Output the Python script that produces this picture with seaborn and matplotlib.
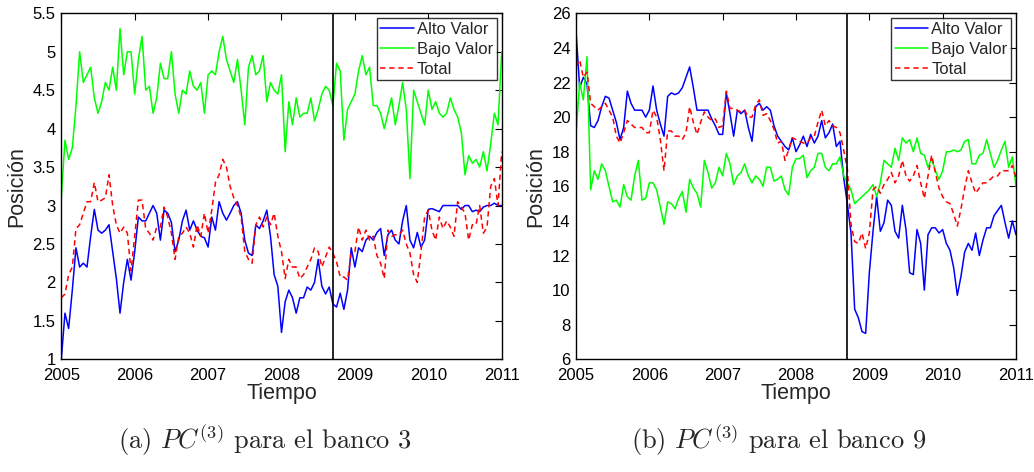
import numpy as np
import pandas as pd
import matplotlib
matplotlib.use("Agg")
import matplotlib.pyplot as plt
import seaborn as sns

# ---------------- data ----------------
YEARS = np.round(2005 + 0.05 * np.arange(121), 2)   # time grid, every 0.05 year
EVENT_YEAR = 2008.70                                  # vertical marker (Sept. 2008)
SERIES = ["Alto Valor", "Bajo Valor", "Total"]
X_TICKS = [2005, 2006, 2007, 2008, 2009, 2010, 2011]
Y_TICKS_A = [1, 1.5, 2, 2.5, 3, 3.5, 4, 4.5, 5, 5.5]
Y_TICKS_B = [6, 8, 10, 12, 14, 16, 18, 20, 22, 24, 26]

A_ALTO = [1.0, 1.6, 1.4, 1.9, 2.45, 2.2, 2.25, 2.2, 2.6, 2.95,
          2.68, 2.64, 2.68, 2.75, 2.4, 2.05, 1.6, 2.0, 2.3, 2.03,
          2.4, 2.85, 2.8, 2.8, 2.9, 3.0, 2.9, 2.55, 2.94, 2.9,
          2.78, 2.4, 2.55, 2.8, 2.94, 2.68, 2.8, 2.68, 2.6, 2.58,
          2.46, 2.85, 2.68, 3.05, 2.9, 2.81, 2.9, 3.0, 3.05, 2.9,
          2.55, 2.38, 2.35, 2.75, 2.7, 2.8, 2.94, 2.6, 2.1, 1.95,
          1.35, 1.75, 1.9, 1.8, 1.6, 1.8, 1.8, 1.94, 1.9, 2.0,
          2.3, 1.95, 1.85, 1.94, 1.72, 1.68, 1.86, 1.65, 1.9, 2.45,
          2.2, 2.45, 2.4, 2.55, 2.6, 2.55, 2.65, 2.7, 2.35, 2.62,
          2.68, 2.55, 2.5, 2.8, 3.0, 2.55, 2.45, 2.65, 2.46, 2.55,
          2.95, 2.96, 2.94, 2.92, 3.0, 3.0, 3.0, 3.0, 3.0, 2.95,
          3.0, 3.0, 2.92, 2.94, 2.92, 2.98, 3.0, 3.0, 3.03, 3.0, 3.0]
A_BAJO = [3.1, 3.85, 3.6, 3.75, 4.3, 5.0, 4.6, 4.7, 4.8, 4.4,
          4.2, 4.35, 4.6, 4.5, 4.8, 4.5, 5.3, 4.7, 5.0, 5.0,
          4.45, 4.9, 5.2, 4.5, 4.55, 4.2, 4.4, 4.85, 4.65, 4.65,
          5.0, 4.45, 4.2, 4.5, 4.45, 4.75, 4.55, 4.5, 4.6, 4.2,
          4.7, 4.75, 4.7, 5.0, 5.2, 4.9, 4.75, 4.6, 4.9, 4.5,
          4.05, 4.8, 4.95, 4.7, 4.75, 4.95, 4.35, 4.6, 4.5, 4.45,
          4.7, 3.7, 4.35, 4.05, 4.4, 4.15, 4.2, 4.2, 4.4, 4.1,
          4.25, 4.45, 4.55, 4.5, 4.3, 4.85, 4.75, 3.85, 4.25, 4.35,
          4.45, 4.75, 4.95, 4.7, 4.8, 4.3, 4.3, 4.2, 4.0, 4.2,
          4.4, 4.05, 4.3, 4.6, 4.25, 3.35, 4.5, 4.35, 4.2, 4.05,
          4.5, 4.25, 4.35, 4.2, 4.15, 4.2, 4.4, 4.25, 4.15, 3.95,
          3.4, 3.65, 3.55, 3.6, 3.5, 3.7, 3.45, 3.8, 4.2, 4.05, 5.0]
A_TOTAL = [1.8, 1.85, 2.1, 2.2, 2.7, 2.75, 2.9, 3.05, 3.05, 3.3,
           3.05, 3.07, 3.1, 3.4, 3.0, 2.75, 2.64, 2.72, 2.64, 2.15,
           2.6, 3.07, 3.07, 2.7, 2.64, 2.55, 2.72, 2.72, 2.98, 2.85,
           2.64, 2.3, 2.6, 2.64, 2.72, 2.64, 2.46, 2.75, 2.6, 2.9,
           2.64, 2.94, 3.3, 3.4, 3.6, 3.5, 3.25, 3.1, 3.0, 2.85,
           2.4, 2.3, 2.25, 2.75, 2.85, 2.72, 2.85, 2.75, 2.9, 2.6,
           2.4, 2.05, 2.3, 2.2, 2.2, 2.05, 2.1, 2.2, 2.3, 2.45,
           2.4, 2.2, 2.33, 2.46, 2.38, 2.27, 2.07, 2.07, 2.03, 2.38,
           2.4, 2.72, 2.55, 2.68, 2.55, 2.6, 2.35, 2.25, 2.05, 2.68,
           2.6, 2.62, 2.62, 2.68, 2.5, 2.38, 2.1, 2.0, 2.4, 2.85,
           2.94, 2.68, 2.55, 2.85, 2.7, 2.8, 2.72, 2.6, 3.05, 2.98,
           2.9, 2.55, 2.75, 2.75, 3.0, 2.64, 2.72, 3.25, 3.35, 3.0, 3.7]

B_ALTO = [25.0, 21.7, 22.3, 21.9, 19.5, 19.4, 19.8, 20.6, 21.2, 21.1,
          20.4, 19.7, 18.7, 19.4, 21.5, 20.8, 20.4, 20.4, 20.4, 20.0,
          20.4, 21.8, 20.4, 19.6, 18.9, 21.2, 21.4, 21.3, 21.4, 21.7,
          22.3, 22.9, 21.7, 20.4, 20.4, 20.4, 20.4, 19.9, 19.5, 19.0,
          19.0, 21.4, 20.2, 18.9, 20.4, 20.2, 20.4, 19.4, 18.6, 20.6,
          20.8, 20.4, 20.6, 20.4, 19.5, 18.9, 18.6, 18.3, 18.1, 18.8,
          18.0, 18.4, 18.9, 18.3, 19.0, 18.5, 18.9, 19.8, 18.8, 19.1,
          19.6, 18.3, 18.6, 16.5, 15.0, 13.3, 8.9, 8.4, 7.6, 7.5,
          11.0, 13.4, 15.4, 13.4, 13.9, 15.2, 14.9, 13.4, 13.0, 14.9,
          13.5, 11.0, 10.9, 13.5, 12.7, 10.0, 13.2, 13.6, 13.6, 13.3,
          13.5, 12.7, 12.3, 11.3, 9.7, 10.8, 12.2, 12.7, 12.3, 13.3,
          12.0, 12.9, 13.6, 13.6, 14.3, 14.6, 14.9, 13.9, 13.0, 14.0, 13.2]
B_BAJO = [19.0, 22.0, 21.0, 23.5, 15.8, 16.9, 16.4, 17.3, 16.9, 16.0,
          15.1, 15.2, 14.8, 16.1, 15.4, 15.2, 16.6, 17.5, 15.2, 15.3,
          16.2, 16.2, 15.8, 14.8, 13.8, 15.1, 15.0, 14.7, 15.3, 15.7,
          14.5, 16.4, 15.9, 15.6, 14.8, 17.5, 16.8, 15.9, 16.2, 17.1,
          16.6, 17.9, 17.3, 16.1, 16.6, 16.8, 17.3, 16.6, 16.2, 16.6,
          16.4, 16.0, 17.1, 17.1, 16.3, 16.4, 16.6, 15.8, 15.5, 17.1,
          17.6, 17.6, 17.8, 16.5, 16.9, 17.1, 17.9, 17.9, 17.1, 16.9,
          17.3, 17.3, 17.7, 16.6, 16.2, 15.8, 15.0, 15.2, 15.4, 15.6,
          15.8, 16.1, 15.4, 16.2, 17.5, 17.3, 17.1, 18.2, 17.5, 18.8,
          18.5, 18.7, 18.0, 18.8, 17.9, 17.8, 17.1, 17.6, 16.9, 16.4,
          16.9, 18.0, 18.0, 18.1, 18.0, 18.1, 18.6, 18.7, 17.3, 17.3,
          17.8, 17.9, 18.7, 17.9, 17.1, 17.5, 18.1, 18.6, 17.1, 17.7, 16.0]
B_TOTAL = [22.9, 23.3, 22.3, 22.6, 20.8, 20.6, 20.4, 20.6, 20.8, 20.4,
           20.0, 18.9, 18.5, 19.1, 19.8, 19.6, 19.4, 19.4, 19.4, 19.1,
           19.1, 20.4, 20.0, 18.7, 16.9, 19.2, 19.2, 18.9, 18.9, 18.7,
           19.1, 20.6, 19.7, 19.0, 19.7, 20.3, 20.0, 19.8, 19.9, 19.4,
           19.5, 21.5, 20.5, 20.5, 20.4, 20.3, 20.4, 20.0, 20.0, 20.7,
           21.0, 20.1, 20.2, 19.8, 19.3, 18.5, 18.6, 17.5, 18.1, 18.8,
           18.7, 18.6, 18.5, 18.5, 18.8, 18.9, 19.7, 20.4, 19.5, 19.8,
           19.5, 19.4, 19.1, 18.1, 17.0, 13.8, 12.8, 12.7, 13.3, 12.4,
           13.3, 15.8, 16.0, 15.6, 16.1, 16.4, 16.8, 16.2, 16.6, 17.5,
           16.6, 16.3, 16.6, 17.2, 16.2, 15.3, 16.6, 17.8, 16.8, 15.9,
           15.4, 15.1, 15.0, 14.4, 13.7, 14.7, 15.9, 16.9, 16.2, 15.6,
           15.9, 16.2, 16.2, 16.4, 16.6, 16.6, 16.9, 16.9, 16.9, 17.2, 16.5]

CAPTIONS = [r"(a) $PC^{(3)}$ para el banco 3", r"(b) $PC^{(3)}$ para el banco 9"]

# ---------------- style ----------------
sns.set_theme(style="white")
plt.rcParams["font.family"] = ["Liberation Sans", "DejaVu Sans"]
plt.rcParams["mathtext.fontset"] = "cm"

COLORS = {"Alto Valor": "#0000ff", "Bajo Valor": "#00ff00", "Total": "#ff0000"}

fig = plt.figure(figsize=(10.34, 4.72), dpi=100)
ax_a = fig.add_axes([0.05928, 0.23877, 0.42592, 0.73305])
ax_b = fig.add_axes([0.55706, 0.23877, 0.42553, 0.73305])


def draw(ax, alto, bajo, total, yticks, ylabels):
    df = pd.DataFrame({"t": YEARS, "Alto Valor": alto, "Bajo Valor": bajo, "Total": total})
    handles = []
    for name in SERIES:
        sns.lineplot(data=df, x="t", y=name, ax=ax, color=COLORS[name],
                     linewidth=1.1, estimator=None, sort=False)
        ln = ax.get_lines()[-1]
        if name == "Total":
            ln.set_dashes([3.5, 2.5])
        handles.append(ln)
    ax.axvline(EVENT_YEAR, color="black", linewidth=1.2)
    ax.set_xlim(X_TICKS[0], X_TICKS[-1])
    ax.set_ylim(yticks[0], yticks[-1])
    ax.set_xticks(X_TICKS)
    ax.set_xticklabels([str(x) for x in X_TICKS])
    ax.set_yticks(yticks)
    ax.set_yticklabels(ylabels)
    ax.tick_params(direction="in", top=True, right=True, length=5, width=0.8,
                   labelsize=12, colors="black")
    ax.tick_params(axis="x", pad=6)
    ax.tick_params(axis="y", pad=4)
    ax.set_xlabel("Tiempo", fontsize=15.5, labelpad=0)
    ax.set_ylabel("Posición", fontsize=15.5, labelpad=4)
    for s in ax.spines.values():
        s.set_color("black")
        s.set_linewidth(1.0)
    leg = ax.legend(handles, SERIES, loc="upper right", fontsize=12,
                    frameon=True, fancybox=False, handlelength=2.0,
                    handletextpad=0.2, borderpad=0.2, labelspacing=0.3,
                    borderaxespad=0.3)
    leg.get_frame().set_edgecolor("black")
    leg.get_frame().set_linewidth(1.0)


draw(ax_a, A_ALTO, A_BAJO, A_TOTAL, Y_TICKS_A,
     ["1", "1.5", "2", "2.5", "3", "3.5", "4", "4.5", "5", "5.5"])
draw(ax_b, B_ALTO, B_BAJO, B_TOTAL, Y_TICKS_B, [str(v) for v in Y_TICKS_B])

fig.text(265 / 1034, 1 - 440 / 472, CAPTIONS[0], ha="center", va="center",
         fontsize=19, family="cmr10")
fig.text(779 / 1034, 1 - 440 / 472, CAPTIONS[1], ha="center", va="center",
         fontsize=19, family="cmr10")

fig.savefig("out.png", dpi=100)
